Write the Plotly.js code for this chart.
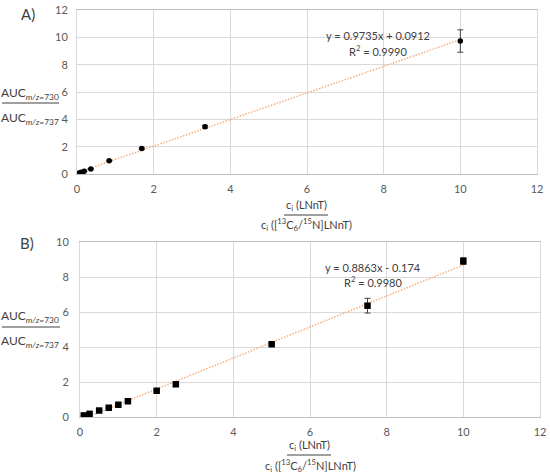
<!DOCTYPE html>
<html>
<head>
<meta charset="utf-8">
<script src="https://cdn.plot.ly/plotly-3.0.1.min.js"></script>
<style>html,body{margin:0;padding:0;background:#fff;}#chart{width:550px;height:475px;}</style>
</head>
<body>
<div id="chart"></div>
<script>
// ---- Data ----
var xA = [0.03, 0.06, 0.11, 0.19, 0.36, 0.84, 1.69, 3.34, 10];
var yA = [0.03, 0.07, 0.12, 0.20, 0.37, 0.97, 1.86, 3.46, 9.73];
var errA = [0, 0, 0, 0, 0.03, 0.04, 0.05, 0.10, 0.82];
var slopeA = 0.9735, interceptA = 0.0912;
var eqA = "y = 0.9735x + 0.0912";
var r2A = "R<sup>2</sup> = 0.9990";

var xB = [0.1, 0.25, 0.5, 0.75, 1.0, 1.25, 2.0, 2.5, 5.0, 7.5, 10];
var yB = [0.09, 0.18, 0.37, 0.53, 0.70, 0.90, 1.50, 1.87, 4.16, 6.36, 8.91];
var errB = [0.02, 0.03, 0.03, 0.03, 0.04, 0.04, 0.05, 0.06, 0.08, 0.42, 0.20];
var slopeB = 0.8863, interceptB = -0.174;
var eqB = "y = 0.8863x - 0.174";
var r2B = "R<sup>2</sup> = 0.9980";

var xTicks = [0, 2, 4, 6, 8, 10, 12];
var yTicksA = [0, 2, 4, 6, 8, 10, 12];
var yTicksB = [0, 2, 4, 6, 8, 10];

var labelA = "A)", labelB = "B)";
var yNum = "AUC<sub><i>m/z</i>=730</sub>";
var yDen = "AUC<sub><i>m/z</i>=737</sub>";
var xNum = "c<sub>i</sub> (LNnT)";
var xDen = "c<sub>i</sub> ([<sup>13</sup>C<sub>6</sub>/<sup>15</sup>N]LNnT)";

// ---- helpers ----
var W = 550, H = 475;
function px(v){ return v / W; }
function py(v){ return 1 - v / H; }
function trend(xs, m, b){ return xs.map(function(x){ return m * x + b; }); }

var FONT = "Lato, 'Open Sans', sans-serif";
var tickFont = {family: FONT, size: 11, color: "#595959"};
var txtColor = "#404040";
var lineX_A = [Math.min.apply(null, xA), Math.max.apply(null, xA)];
var lineX_B = [Math.min.apply(null, xB), Math.max.apply(null, xB)];
var trendLine = {color: "#F4B183", width: 1.5, dash: "1.5px,1.5px"};

var traces = [
  {x: lineX_A, y: trend(lineX_A, slopeA, interceptA), xaxis: "x", yaxis: "y", mode: "lines",
   line: trendLine, hoverinfo: "skip"},
  {x: xA, y: yA, xaxis: "x", yaxis: "y", mode: "markers", type: "scatter",
   marker: {symbol: "circle", size: 5.5, color: "#000"},
   error_y: {type: "data", array: errA, visible: true, color: "#404040", thickness: 1, width: 3}},
  {x: lineX_B, y: trend(lineX_B, slopeB, interceptB), xaxis: "x2", yaxis: "y2", mode: "lines",
   line: trendLine, hoverinfo: "skip"},
  {x: xB, y: yB, xaxis: "x2", yaxis: "y2", mode: "markers", type: "scatter",
   marker: {symbol: "square", size: 6.5, color: "#000"},
   error_y: {type: "data", array: errB, visible: true, color: "#404040", thickness: 1, width: 3}}
];

function axis(dom, range, ticks, anchor){
  return {domain: dom, range: range, tickvals: ticks, ticktext: ticks.map(String),
    showgrid: true, gridcolor: "#d9d9d9", gridwidth: 1, zeroline: false,
    showline: true, linecolor: "#d9d9d9", linewidth: 1, mirror: true,
    ticks: "", tickfont: tickFont, anchor: anchor, fixedrange: true};
}

var xa1 = axis([px(77), px(537)], [0, 12], xTicks, "y");
var ya1 = axis([py(174), py(10)], [0, 12], yTicksA, "x");
var xa2 = axis([px(80), px(540)], [0, 12], xTicks, "y2");
var ya2 = axis([py(417), py(242)], [0, 10], yTicksB, "x2");
xa1.ticklabelstandoff = 5; xa2.ticklabelstandoff = 5;
ya1.ticklabelstandoff = 6; ya2.ticklabelstandoff = 8;
xa1.linecolor = "#bfbfbf"; xa2.linecolor = "#bfbfbf";

function ann(x, y, text, size, xanchor){
  return {xref: "paper", yref: "paper", x: px(x), y: py(y), text: text, showarrow: false,
    xanchor: xanchor || "center", yanchor: "middle", borderpad: 0,
    font: {family: FONT, size: size, color: txtColor}};
}

var annotations = [
  ann(28, 14, labelA, 15),
  ann(27, 243, labelB, 15),
  ann(0, 93, yNum, 12, "left"),
  ann(0, 118, yDen, 12, "left"),
  ann(0, 316, yNum, 12, "left"),
  ann(0, 341, yDen, 12, "left"),
  ann(306, 205, xNum, 11),
  ann(306, 225, xDen, 11),
  ann(309, 445, xNum, 11),
  ann(310, 465, xDen, 11),
  ann(378, 36, eqA, 11),
  ann(378, 50, r2A, 11),
  ann(373, 267, eqB, 11),
  ann(373, 281, r2B, 11)
];

function hline(x0, x1, y){
  return {type: "line", xref: "paper", yref: "paper", x0: px(x0), x1: px(x1), y0: py(y), y1: py(y),
    line: {color: "#404040", width: 1}};
}
var shapes = [hline(2, 59, 103), hline(2, 60, 327), hline(284, 328, 215), hline(287, 331, 455)];

var layout = {
  width: W, height: H, margin: {l: 0, r: 0, t: 0, b: 0},
  paper_bgcolor: "#fff", plot_bgcolor: "#fff", showlegend: false,
  font: {family: FONT},
  xaxis: xa1, yaxis: ya1, xaxis2: xa2, yaxis2: ya2,
  annotations: annotations, shapes: shapes
};

Plotly.newPlot("chart", traces, layout, {staticPlot: true, displayModeBar: false});
</script>
</body>
</html>
